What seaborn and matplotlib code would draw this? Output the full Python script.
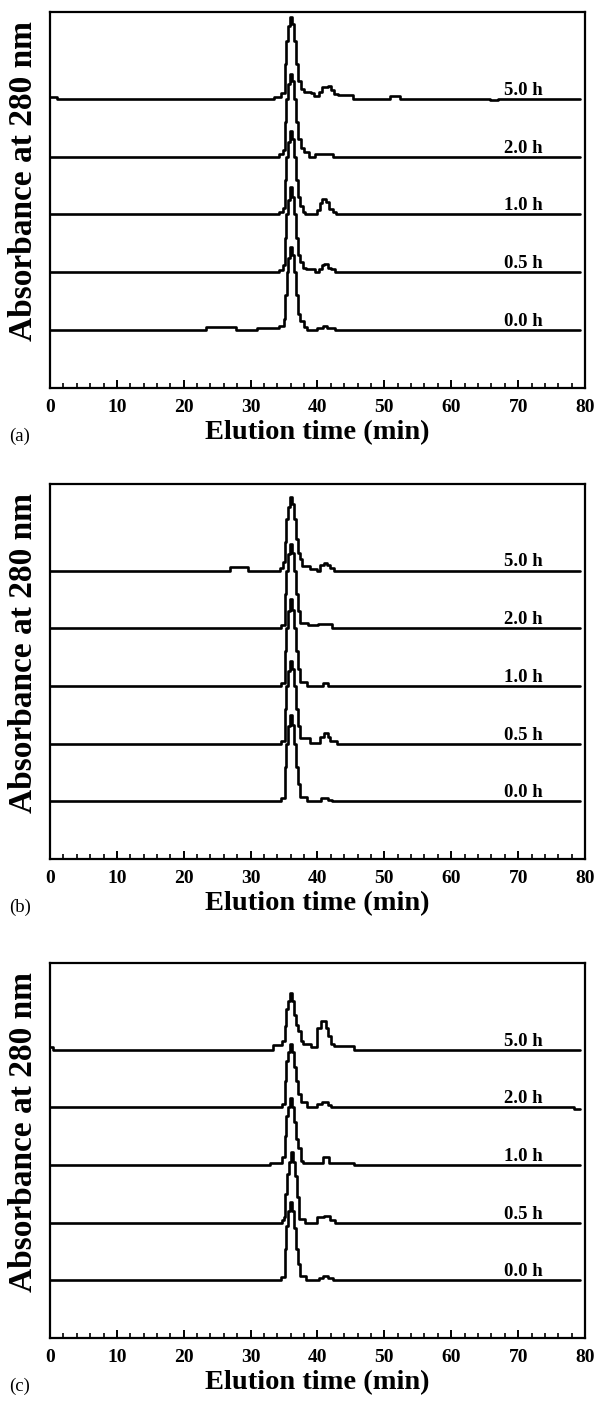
import matplotlib
matplotlib.use("Agg")
import matplotlib.pyplot as plt
from matplotlib.ticker import MultipleLocator
import pandas as pd
import seaborn as sns

# === Chromatogram data (elution time in min, absorbance in arbitrary units) ===
# each trace drawn as steps; last time point is the end of the run
SAMPLES = ["0.0 h", "0.5 h", "1.0 h", "2.0 h", "5.0 h"]
PANELS = ["(a)", "(b)", "(c)"]

# ---- panel (a) ----
a_00_t = [0, 23.3, 27.8, 31.0, 34.3, 35.0, 35.2, 35.4, 35.6, 35.9, 36.2, 36.5, 36.8, 37.1, 37.4, 38.0, 38.5, 40.0, 40.8, 41.4, 42.6, 79.2]
a_00_v = [0, 0.05, 0.0, 0.03, 0.08, 0.2, 0.6, 1.0, 1.25, 1.44, 1.3, 1.0, 0.6, 0.28, 0.15, 0.05, 0.0, 0.04, 0.07, 0.04, 0.0, 0.0]
a_05_t = [0, 34.3, 34.8, 35.1, 35.3, 35.6, 35.9, 36.2, 36.5, 36.8, 37.1, 37.4, 37.8, 38.3, 39.7, 40.2, 40.6, 41.0, 41.5, 42.0, 42.6, 79.2]
a_05_v = [0, 0.04, 0.12, 0.6, 1.0, 1.25, 1.47, 1.3, 1.0, 0.6, 0.3, 0.17, 0.08, 0.05, 0.0, 0.06, 0.12, 0.14, 0.08, 0.05, 0.0, 0.0]
a_10_t = [0, 34.3, 34.8, 35.1, 35.3, 35.6, 35.9, 36.2, 36.5, 36.8, 37.1, 37.4, 37.8, 38.2, 40.0, 40.3, 40.7, 41.2, 41.7, 42.3, 42.8, 79.2]
a_10_v = [0, 0.05, 0.12, 0.6, 1.0, 1.25, 1.44, 1.3, 1.0, 0.6, 0.3, 0.15, 0.04, 0.0, 0.08, 0.2, 0.27, 0.22, 0.1, 0.04, 0.0, 0.0]
a_20_t = [0, 34.3, 34.8, 35.1, 35.3, 35.6, 35.9, 36.2, 36.5, 36.8, 37.1, 37.5, 38.0, 38.7, 39.7, 42.3, 79.2]
a_20_v = [0, 0.05, 0.12, 0.6, 1.0, 1.25, 1.42, 1.3, 1.0, 0.6, 0.3, 0.15, 0.08, 0.0, 0.04, 0.0, 0.0]
a_50_t = [0, 1.0, 33.5, 34.5, 35.1, 35.3, 35.6, 35.9, 36.2, 36.5, 36.8, 37.1, 37.5, 38.0, 39.0, 39.5, 40.2, 40.7, 41.5, 42.0, 42.5, 43.0, 45.3, 50.8, 52.3, 65.8, 67.0, 79.2]
a_50_v = [0.03, 0.0, 0.03, 0.1, 0.6, 1.0, 1.25, 1.41, 1.3, 1.0, 0.6, 0.3, 0.17, 0.12, 0.1, 0.05, 0.12, 0.2, 0.22, 0.15, 0.08, 0.06, 0.0, 0.04, 0.0, -0.02, 0.0, 0.0]

# ---- panel (b) ----
b_00_t = [0, 34.6, 35.1, 35.3, 35.6, 35.9, 36.2, 36.5, 36.8, 37.1, 37.4, 38.5, 40.5, 41.5, 42.2, 79.2]
b_00_v = [0, 0.05, 0.6, 1.0, 1.3, 1.5, 1.32, 1.0, 0.6, 0.3, 0.08, 0.0, 0.05, 0.02, 0.0, 0.0]
b_05_t = [0, 34.5, 35.1, 35.3, 35.6, 35.9, 36.2, 36.5, 36.8, 37.1, 37.4, 38.9, 40.4, 40.9, 41.5, 41.9, 42.9, 79.2]
b_05_v = [0, 0.05, 0.6, 1.0, 1.25, 1.43, 1.3, 1.0, 0.6, 0.3, 0.1, 0.01, 0.12, 0.18, 0.12, 0.04, 0.0, 0.0]
b_10_t = [0, 34.6, 35.1, 35.3, 35.6, 35.9, 36.2, 36.5, 36.8, 37.1, 37.4, 38.4, 40.8, 41.6, 79.2]
b_10_v = [0, 0.05, 0.6, 1.0, 1.3, 1.5, 1.32, 1.0, 0.6, 0.3, 0.07, 0.0, 0.05, 0.0, 0.0]
b_20_t = [0, 34.6, 35.1, 35.3, 35.6, 35.9, 36.2, 36.5, 36.8, 37.1, 37.4, 38.6, 40.1, 42.1, 79.2]
b_20_v = [0, 0.05, 0.6, 1.0, 1.28, 1.46, 1.3, 1.0, 0.6, 0.3, 0.09, 0.05, 0.07, 0.0, 0.0]
b_50_t = [0, 26.9, 29.6, 34.4, 34.9, 35.1, 35.3, 35.6, 35.9, 36.2, 36.5, 36.8, 37.1, 37.4, 37.7, 38.9, 39.9, 40.4, 40.9, 41.4, 41.9, 42.4, 79.2]
b_50_v = [0, 0.06, 0.0, 0.05, 0.15, 0.5, 0.9, 1.1, 1.28, 1.15, 0.9, 0.55, 0.3, 0.2, 0.08, 0.02, 0.0, 0.1, 0.13, 0.1, 0.05, 0.0, 0.0]

# ---- panel (c) ----
c_00_t = [0, 34.6, 35.1, 35.3, 35.6, 35.9, 36.2, 36.5, 36.8, 37.1, 37.4, 38.3, 40.2, 40.8, 41.5, 42.3, 79.2]
c_00_v = [0, 0.05, 0.55, 0.95, 1.2, 1.35, 1.2, 0.9, 0.55, 0.28, 0.08, 0.0, 0.04, 0.07, 0.04, 0.0, 0.0]
c_05_t = [0, 34.7, 35.0, 35.2, 35.4, 35.7, 36.0, 36.3, 36.6, 36.9, 37.3, 38.2, 40.0, 41.0, 41.9, 42.6, 79.2]
c_05_v = [0, 0.04, 0.1, 0.5, 0.85, 1.05, 1.22, 1.05, 0.8, 0.45, 0.07, 0.0, 0.09, 0.11, 0.04, 0.0, 0.0]
c_10_t = [0, 32.9, 34.7, 35.1, 35.3, 35.6, 35.9, 36.2, 36.5, 36.8, 37.1, 37.5, 37.9, 40.8, 41.7, 45.4, 79.2]
c_10_v = [0, 0.04, 0.13, 0.5, 0.85, 1.0, 1.16, 1.0, 0.75, 0.45, 0.3, 0.07, 0.03, 0.13, 0.035, 0.0, 0.0]
c_20_t = [0, 34.7, 35.1, 35.3, 35.6, 35.9, 36.2, 36.5, 36.8, 37.1, 37.5, 38.5, 40.0, 40.7, 41.5, 42.0, 78.3, 79.2]
c_20_v = [0, 0.06, 0.45, 0.8, 0.95, 1.09, 0.95, 0.7, 0.45, 0.23, 0.09, 0.0, 0.05, 0.09, 0.04, 0.0, -0.03, -0.03]
c_50_t = [0, 0.5, 33.3, 34.7, 35.1, 35.3, 35.6, 35.9, 36.2, 36.5, 36.8, 37.1, 37.5, 37.9, 39.1, 39.8, 40.0, 40.5, 41.3, 41.6, 42.0, 42.5, 45.5, 79.2]
c_50_v = [0.04, 0.0, 0.08, 0.15, 0.4, 0.7, 0.85, 0.98, 0.85, 0.6, 0.42, 0.32, 0.15, 0.09, 0.04, 0.04, 0.38, 0.5, 0.38, 0.23, 0.09, 0.06, 0.0, 0.0]

traces = {
    "(a)": [(a_00_t, a_00_v), (a_05_t, a_05_v), (a_10_t, a_10_v), (a_20_t, a_20_v), (a_50_t, a_50_v)],
    "(b)": [(b_00_t, b_00_v), (b_05_t, b_05_v), (b_10_t, b_10_v), (b_20_t, b_20_v), (b_50_t, b_50_v)],
    "(c)": [(c_00_t, c_00_v), (c_05_t, c_05_v), (c_10_t, c_10_v), (c_20_t, c_20_v), (c_50_t, c_50_v)],
}

# === Style ===
sns.set_style("ticks")
plt.rcParams["font.family"] = ["Liberation Serif", "DejaVu Serif"]
plt.rcParams["font.weight"] = "bold"
plt.rcParams["text.color"] = "black"
plt.rcParams["axes.labelcolor"] = "black"
plt.rcParams["axes.edgecolor"] = "black"
plt.rcParams["xtick.color"] = "black"

W, H = 598, 1403
fig = plt.figure(figsize=(W / 100, H / 100), dpi=100)

# axes boxes in pixels: (top, bottom)
boxes = [(12, 388), (484, 859), (963, 1338)]
x_left, x_right = 50, 585

for panel, (top, bottom) in zip(PANELS, boxes):
    ax = fig.add_axes([x_left / W, 1 - bottom / H, (x_right - x_left) / W, (bottom - top) / H])

    for i, (sample, (t, v)) in enumerate(zip(SAMPLES, traces[panel])):
        df = pd.DataFrame({"time": t, "abs": [val + i for val in v]})
        sns.lineplot(data=df, x="time", y="abs", ax=ax, color="black", lw=1.9,
                     estimator=None, drawstyle="steps-post")
        ax.text(67.9, i + 0.07, sample, fontsize=13.5, fontweight="bold", ha="left", va="baseline")

    ax.set_xlim(0, 80)
    ax.set_ylim(-1.0, 5.5)
    ax.xaxis.set_major_locator(MultipleLocator(10))
    ax.xaxis.set_minor_locator(MultipleLocator(2))
    ax.tick_params(axis="x", which="major", direction="in", length=6, width=1.4,
                   labelsize=14, pad=8, top=False)
    ax.tick_params(axis="x", which="minor", direction="in", length=3.5, width=1.2, top=False)
    ax.tick_params(axis="y", left=False, labelleft=False)
    for lbl in ax.get_xticklabels():
        lbl.set_fontweight("bold")
    for s in ax.spines.values():
        s.set_visible(True)
        s.set_linewidth(1.6)

    ax.set_xlabel("Elution time (min)", fontsize=20.5, fontweight="bold", labelpad=3)
    ax.set_ylabel("Absorbance at 280 nm", fontsize=24, fontweight="bold")
    ax.yaxis.set_label_coords(-0.02, 0.55)

    fig.text(20 / W, 1 - (bottom + 48) / H, panel, fontsize=13.5, fontweight="normal",
             ha="center", va="center")

fig.savefig("out.png", dpi=100)
